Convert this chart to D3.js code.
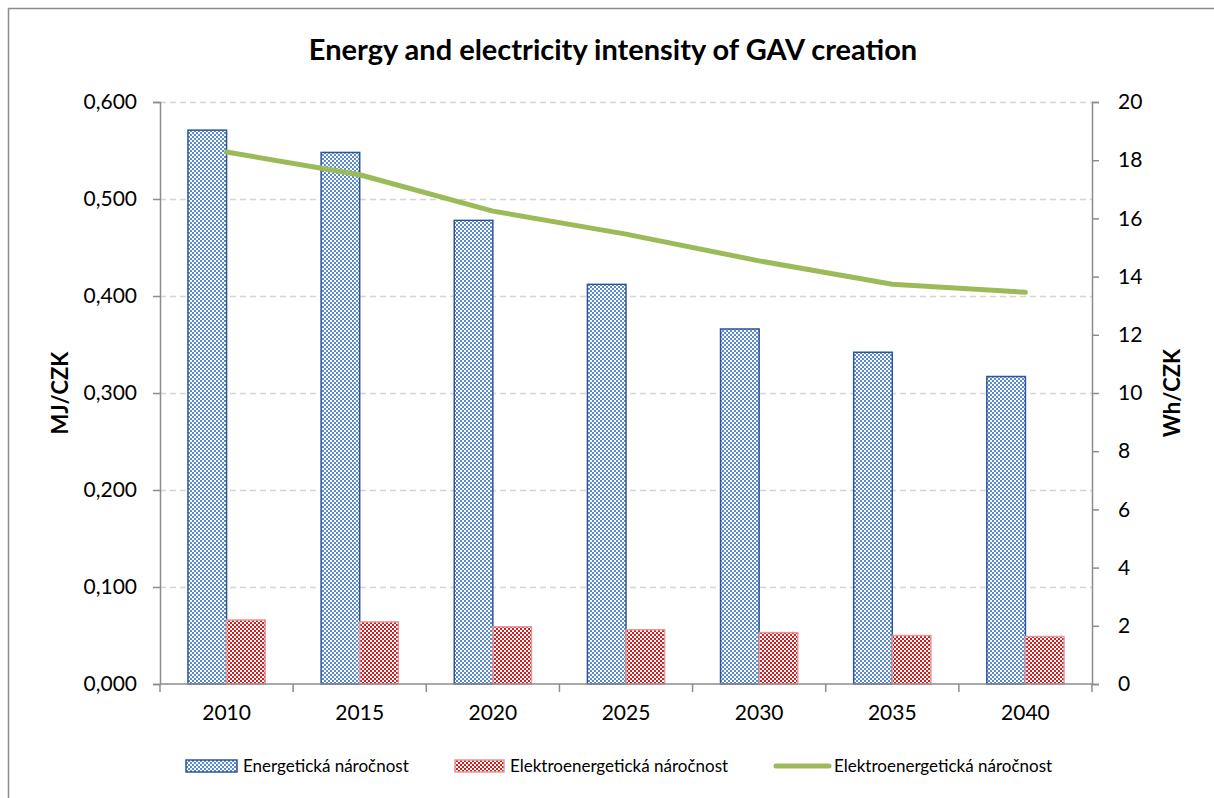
<!DOCTYPE html>
<html>
<head>
<meta charset="utf-8">
<script src="https://cdn.jsdelivr.net/npm/d3@7"></script>
<style>
  html, body { margin: 0; padding: 0; background: #fff; }
  svg { display: block; font-family: Lato, "Open Sans", sans-serif; }
</style>
</head>
<body>
<svg id="chart" width="1214" height="798"></svg>
<script>
const years = ["2010", "2015", "2020", "2025", "2030", "2035", "2040"];
const energy = [0.571, 0.548, 0.478, 0.412, 0.366, 0.342, 0.317];
const electro = [0.066, 0.064, 0.059, 0.056, 0.053, 0.050, 0.049];
const electroWh = [18.28, 17.50, 16.25, 15.46, 14.54, 13.74, 13.46];
const leftTicks = [0, 0.1, 0.2, 0.3, 0.4, 0.5, 0.6];
const rightTicks = [0, 2, 4, 6, 8, 10, 12, 14, 16, 18, 20];
const seriesNames = ["Energetická náročnost", "Elektroenergetická náročnost", "Elektroenergetická náročnost"];
const title = "Energy and electricity intensity of GAV creation";

const svg = d3.select("#chart");
const W = 1214, H = 798;
const m = { left: 160, right: 1092, top: 102, bottom: 684 };

// patterns
const defs = svg.append("defs");
function checker(id, color) {
  const p = defs.append("pattern").attr("id", id).attr("patternUnits", "userSpaceOnUse")
    .attr("width", 4).attr("height", 4);
  p.append("rect").attr("width", 4).attr("height", 4).attr("fill", "#fff");
  p.append("rect").attr("x", 0).attr("y", 0).attr("width", 2).attr("height", 2).attr("fill", color);
  p.append("rect").attr("x", 2).attr("y", 2).attr("width", 2).attr("height", 2).attr("fill", color);
}
checker("pBlue", "#5a8ad0");
checker("pRed", "#d41c1c");

// outer border
svg.append("rect").attr("x", 8.5).attr("y", 8.5).attr("width", W).attr("height", H)
  .attr("fill", "none").attr("stroke", "#8c8c8c").attr("stroke-width", 1.5);

const x = d3.scaleBand().domain(years).range([m.left, m.right]);
const yL = d3.scaleLinear().domain([0, 0.6]).range([m.bottom, m.top]);
const yR = d3.scaleLinear().domain([0, 20]).range([m.bottom, m.top]);
const barW = x.bandwidth() * 0.29;

// grid
svg.append("g").selectAll("line").data(leftTicks.filter(d => d > 0)).join("line")
  .attr("x1", m.left).attr("x2", m.right)
  .attr("y1", d => Math.round(yL(d)) + 0.5).attr("y2", d => Math.round(yL(d)) + 0.5)
  .attr("stroke", "#d4d4d4").attr("stroke-width", 1.3).attr("stroke-dasharray", "6,4");

// bars
svg.append("g").selectAll("rect").data(energy).join("rect")
  .attr("x", (d, i) => x(years[i]) + x.bandwidth() / 2 - barW)
  .attr("y", d => yL(d)).attr("width", barW).attr("height", d => yL(0) - yL(d))
  .attr("fill", "url(#pBlue)").attr("stroke", "#2f5597").attr("stroke-width", 1.5);
svg.append("g").selectAll("rect").data(electro).join("rect")
  .attr("x", (d, i) => x(years[i]) + x.bandwidth() / 2)
  .attr("y", d => yL(d)).attr("width", barW).attr("height", d => yL(0) - yL(d))
  .attr("fill", "url(#pRed)").attr("stroke", "#e39a9a").attr("stroke-width", 1.5);

// axes
const axisColor = "#8c8c8c";
const gL = svg.append("g").attr("transform", `translate(${m.left},0)`)
  .call(d3.axisLeft(yL).tickValues(leftTicks).tickSize(7).tickPadding(16)
    .tickFormat(d => d3.format(".3f")(d).replace(".", ",")));
const gR = svg.append("g").attr("transform", `translate(${m.right},0)`)
  .call(d3.axisRight(yR).tickValues(rightTicks).tickSize(7).tickPadding(19).tickFormat(d3.format("d")));
const gX = svg.append("g").attr("transform", `translate(0,${m.bottom})`)
  .call(d3.axisBottom(x).tickSize(0).tickPadding(21));
[gL, gR, gX].forEach(g => {
  g.select(".domain").attr("stroke", axisColor).attr("stroke-width", 1.5);
  g.selectAll(".tick line").attr("stroke", axisColor).attr("stroke-width", 1.5);
  g.selectAll("text").attr("fill", "#000").style("font-size", "21px").style("font-family", "Lato, sans-serif");
});
gX.select(".domain").attr("d", `M${m.left},0H${m.right}`);
// x boundary ticks
svg.append("g").selectAll("line").data(d3.range(years.length + 1)).join("line")
  .attr("x1", i => m.left + i * x.step()).attr("x2", i => m.left + i * x.step())
  .attr("y1", m.bottom).attr("y2", m.bottom + 8)
  .attr("stroke", axisColor).attr("stroke-width", 1.5);

// line
const line = d3.line().x((d, i) => x(years[i]) + x.bandwidth() / 2).y(d => yR(d));
svg.append("path").datum(electroWh).attr("d", line)
  .attr("fill", "none").attr("stroke", "#9bbb59").attr("stroke-width", 5)
  .attr("stroke-linecap", "round").attr("stroke-linejoin", "round");

// title
svg.append("text").attr("x", 613).attr("y", 60).attr("text-anchor", "middle")
  .style("font-size", "29px").style("font-weight", "bold").text(title);

// axis titles
svg.append("text").attr("transform", "translate(68,393) rotate(-90)").attr("text-anchor", "middle")
  .style("font-size", "22px").style("font-weight", "bold").text("MJ/CZK");
svg.append("text").attr("transform", "translate(1180,393) rotate(-90)").attr("text-anchor", "middle")
  .style("font-size", "22px").style("font-weight", "bold").text("Wh/CZK");

// legend
const lg = svg.append("g").style("font-size", "17px");
const ly = 766;
lg.append("rect").attr("x", 186).attr("y", ly - 6).attr("width", 51).attr("height", 12)
  .attr("fill", "url(#pBlue)").attr("stroke", "#2f5597").attr("stroke-width", 1.5);
lg.append("text").attr("x", 243).attr("y", ly + 6).text(seriesNames[0]);
lg.append("rect").attr("x", 455).attr("y", ly - 6).attr("width", 49).attr("height", 12)
  .attr("fill", "url(#pRed)").attr("stroke", "#e39a9a").attr("stroke-width", 1.5);
lg.append("text").attr("x", 510).attr("y", ly + 6).text(seriesNames[1]);
lg.append("line").attr("x1", 776).attr("x2", 829).attr("y1", ly).attr("y2", ly)
  .attr("stroke", "#9bbb59").attr("stroke-width", 5).attr("stroke-linecap", "round");
lg.append("text").attr("x", 834).attr("y", ly + 6).text(seriesNames[2]);
</script>
</body>
</html>
